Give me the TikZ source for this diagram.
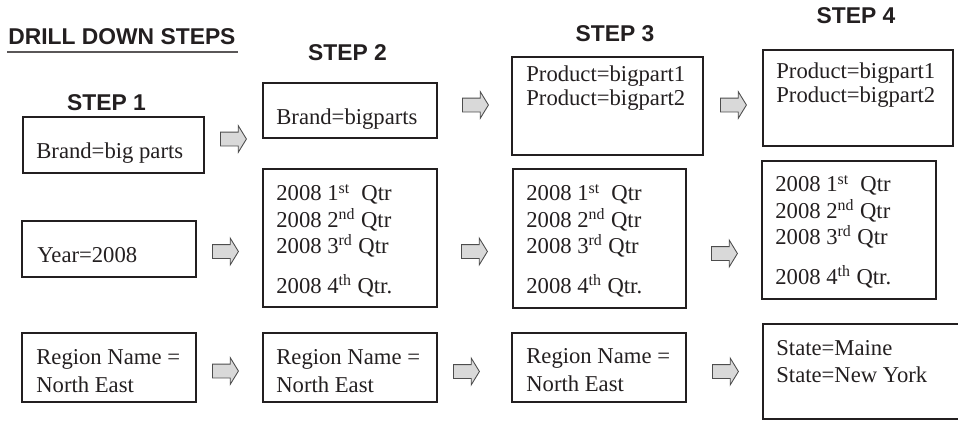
\documentclass[tikz,border=0pt]{standalone}
\usepackage{fontspec}
\setmainfont{Liberation Serif}
\setsansfont{Liberation Sans}
\usepackage{tikz}
\usetikzlibrary{arrows.meta, positioning, shapes.arrows, fit, calc}
\definecolor{FigInk}{HTML}{231F20}
\definecolor{ArrFill}{HTML}{D9D9D9}
\definecolor{ArrInk}{HTML}{4D4D4D}
\newcommand{\qsup}[1]{\textsuperscript{#1}}

\begin{document}
\begin{tikzpicture}[
    x=0.02cm, y=-0.02cm,
    font=\fontsize{12.9}{15.4}\selectfont,
    every node/.style={text=FigInk},
    cell/.style={draw=FigInk, line width=1.5pt, inner sep=0pt},
    % multi-line entries sit on the baseline of their last line
    entry/.style={anchor=base west, align=left, inner sep=0pt},
    prodentry/.style={entry, font=\fontsize{12.9}{13.1}\selectfont},
    qtrentry/.style={entry, font=\fontsize{12.9}{15.0}\selectfont},
    regentry/.style={entry, font=\fontsize{12.9}{15.9}\selectfont},
    stephead/.style={
      anchor=base, inner sep=0pt,
      font=\sffamily\bfseries\fontsize{13}{15}\selectfont,
    },
    blockarrow/.style={
      single arrow, draw=ArrInk, fill=ArrFill, line width=0.5pt,
      minimum height=0.52cm, inner xsep=0pt, inner ysep=0.13cm,
      single arrow head extend=0.13cm, single arrow tip angle=117,
      anchor=tail,
    },
    uline/.style={draw=FigInk!75, line width=1.1pt},
  ]
    \useasboundingbox (0,0) rectangle (958,420);
    \clip (0,0) rectangle (958,420);

    % headings
    \node[stephead, anchor=base west] (title) at (8,44) {DRILL DOWN STEPS};
    \draw[uline] ($(title.base west)+(-1,8)$) -- ($(title.base east)+(2,8)$);

    \node[stephead] (step1) at (106.5,110) {STEP 1};
    \node[stephead] (step2) at (347.5,60) {STEP 2};
    \node[stephead] (step3) at (615,41) {STEP 3};
    \node[stephead] (step4) at (856,23) {STEP 4};

    % step 1
    \node[cell, fit={(23,117) (204,173)}] (brand1) {};
    \node[cell, fit={(22,221) (196,277)}] (year1) {};
    \node[cell, fit={(22,333) (196,402)}] (region1) {};
    \node[entry] (brand1t) at (36,158) {Brand=big parts};
    \node[entry] (year1t) at (37,262) {Year=2008};
    \node[regentry] (region1t) at (36,392) {Region Name =\\North East};

    % step 2
    \node[cell, fit={(263,83) (437,138)}] (brand2) {};
    \node[cell, fit={(263,169) (437,307)}] (qtr2) {};
    \node[cell, fit={(263,333) (437,402)}] (region2) {};
    \node[entry] (brand2t) at (276,124) {Brand=bigparts};
    \node[qtrentry] (qtr2t) at (276,293)
      {2008 1\qsup{st}~ Qtr\\2008 2\qsup{nd} Qtr\\2008 3\qsup{rd} Qtr\\[7.5pt]
       2008 4\qsup{th} Qtr.};
    \node[regentry] (region2t) at (276,392) {Region Name =\\North East};

    % step 3
    \node[cell, fit={(512,57) (703,155)}] (prod3) {};
    \node[cell, fit={(513,169) (686,308)}] (qtr3) {};
    \node[cell, fit={(512,333) (686,402)}] (region3) {};
    \node[prodentry] (prod3t) at (526,105) {Product=bigpart1\\Product=bigpart2};
    \node[qtrentry] (qtr3t) at (526,293)
      {2008 1\qsup{st}~ Qtr\\2008 2\qsup{nd} Qtr\\2008 3\qsup{rd} Qtr\\[7.5pt]
       2008 4\qsup{th} Qtr.};
    \node[regentry] (region3t) at (526,391) {Region Name =\\North East};

    % step 4
    \node[cell, fit={(763,50) (953,146)}] (prod4) {};
    \node[cell, fit={(762,161) (936,299)}] (qtr4) {};
    \node[cell, fit={(763,324) (966,419)}] (state4) {};
    \node[prodentry] (prod4t) at (776,102) {Product=bigpart1\\Product=bigpart2};
    \node[qtrentry] (qtr4t) at (775,284)
      {2008 1\qsup{st}~ Qtr\\2008 2\qsup{nd} Qtr\\2008 3\qsup{rd} Qtr\\[7.5pt]
       2008 4\qsup{th} Qtr.};
    \node[qtrentry] (state4t) at (776,382) {State=Maine\\State=New York};

    % block arrows between the steps
    \node[blockarrow] (a11) at (220,139) {};
    \node[blockarrow] (a12) at (462,105) {};
    \node[blockarrow] (a13) at (720,105) {};
    \node[blockarrow] (a21) at (212,251.5) {};
    \node[blockarrow] (a22) at (461,251.5) {};
    \node[blockarrow] (a23) at (711,253.5) {};
    \node[blockarrow] (a31) at (212,371) {};
    \node[blockarrow] (a32) at (453,371.5) {};
    \node[blockarrow] (a33) at (712,371.5) {};
  \end{tikzpicture}
\end{document}
